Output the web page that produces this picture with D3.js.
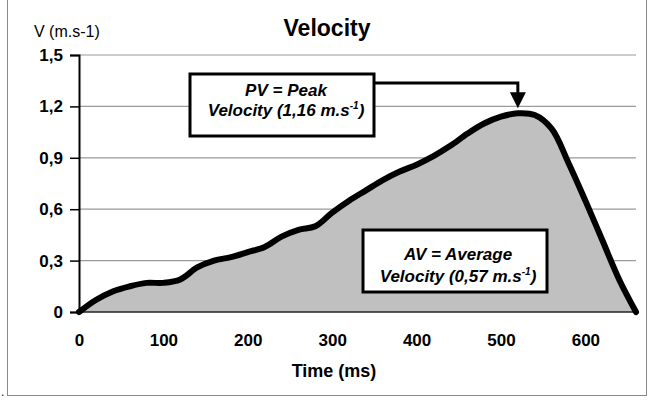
<!DOCTYPE html>
<html>
<head>
<meta charset="utf-8">
<script src="https://cdn.jsdelivr.net/npm/d3@7"></script>
<style>
  body { margin: 0; background: #fff; }
  svg { display: block; font-family: "Liberation Sans", Arial, sans-serif; }
</style>
</head>
<body>
<div id="chart"></div>
<script>
// velocity curve (time in ms, velocity in m.s-1)
var times = [0, 20, 40, 60, 80, 100, 120, 140, 160, 180, 200, 220, 240, 260, 280, 300, 320,
             340, 360, 380, 400, 420, 440, 460, 480, 500, 520, 540, 560, 580, 600, 620, 640, 660];
var velocity = [0, 0.07, 0.12, 0.15, 0.17, 0.17, 0.19, 0.26, 0.30, 0.32, 0.35, 0.38, 0.44, 0.48, 0.50, 0.58, 0.65,
                0.71, 0.77, 0.82, 0.86, 0.91, 0.97, 1.04, 1.10, 1.14, 1.16, 1.15, 1.07, 0.87, 0.65, 0.42, 0.19, 0];
var yTicks = [0, 0.3, 0.6, 0.9, 1.2, 1.5];
var xTicks = [0, 100, 200, 300, 400, 500, 600];
var peakLabel = ["PV = Peak", "Velocity (1,16 m.s", "-1", ")"];
var avgLabel = ["AV = Average", "Velocity (0,57 m.s", "-1", ")"];

var W = 651, H = 405;
var margin = {top: 55, right: 15, bottom: 93, left: 79},
    width = 636 - margin.left,
    height = 312 - margin.top;

var data = times.map(function(t, i) { return {t: t, v: velocity[i]}; });

var svg = d3.select("#chart")
  .append("svg")
    .attr("width", W)
    .attr("height", H);

// outer frame
svg.append("rect")
  .attr("x", 7.5).attr("y", -2)
  .attr("width", 639).attr("height", 397.5)
  .attr("fill", "none")
  .attr("stroke", "#8a8a8a");

svg.append("text")
  .attr("x", 1).attr("y", 396)
  .style("font-size", "12px")
  .text(".");

var g = svg.append("g")
  .attr("transform", "translate(" + margin.left + "," + margin.top + ")");

var x = d3.scaleLinear()
  .domain([0, 660])
  .range([0, width]);

var y = d3.scaleLinear()
  .domain([0, 1.5])
  .range([height, 0]);

// gridlines
g.selectAll(".grid")
  .data(yTicks.filter(function(d) { return d > 0; }))
  .enter()
  .append("line")
    .attr("x1", 0)
    .attr("x2", width)
    .attr("y1", function(d) { return y(d); })
    .attr("y2", function(d) { return y(d); })
    .attr("stroke", "#9a9a9a")
    .attr("stroke-width", 1.2);

// area + line
var area = d3.area()
  .x(function(d) { return x(d.t); })
  .y0(height)
  .y1(function(d) { return y(d.v); })
  .curve(d3.curveCatmullRom);

var line = d3.line()
  .x(function(d) { return x(d.t); })
  .y(function(d) { return y(d.v); })
  .curve(d3.curveCatmullRom);

g.append("path")
  .datum(data)
  .attr("d", area)
  .attr("fill", "#c0c0c0");

// x baseline
g.append("line")
  .attr("x1", 0).attr("x2", width)
  .attr("y1", height).attr("y2", height)
  .attr("stroke", "#222")
  .attr("stroke-width", 1.5);

// X axis
var xAxis = g.append("g")
  .attr("transform", "translate(0," + height + ")")
  .call(d3.axisBottom(x).tickValues(xTicks).tickSize(0).tickPadding(22).tickFormat(d3.format("d")));
xAxis.select(".domain").remove();
xAxis.selectAll("text")
  .style("font-size", "17px")
  .style("font-weight", "bold")
  .attr("fill", "#000");

// Y axis
var fmt = function(v) { return v === 0 ? "0" : d3.format(".1f")(v).replace(".", ","); };
var yAxis = g.append("g")
  .call(d3.axisLeft(y).tickValues(yTicks).tickSize(9).tickPadding(7).tickFormat(fmt));
yAxis.select(".domain").attr("stroke", "#000").attr("stroke-width", 2);
yAxis.selectAll(".tick line").attr("stroke", "#000").attr("stroke-width", 1.5);
yAxis.selectAll("text")
  .style("font-size", "17px")
  .style("font-weight", "bold")
  .attr("fill", "#000");

g.append("path")
  .datum(data)
  .attr("d", line)
  .attr("fill", "none")
  .attr("stroke", "#000")
  .attr("stroke-width", 6)
  .attr("stroke-linejoin", "round")
  .attr("stroke-linecap", "round");

// titles
svg.append("text")
  .attr("x", 327).attr("y", 36)
  .attr("text-anchor", "middle")
  .style("font-size", "23px")
  .style("font-weight", "bold")
  .text("Velocity");

svg.append("text")
  .attr("x", 34).attr("y", 37)
  .style("font-size", "16px")
  .text("V (m.s-1)");

svg.append("text")
  .attr("x", 334).attr("y", 377)
  .attr("text-anchor", "middle")
  .style("font-size", "18px")
  .style("font-weight", "bold")
  .text("Time (ms)");

// annotation boxes
function labelBox(bx, by, bw, bh, cx, base1, base2, lbl) {
  svg.append("rect")
    .attr("x", bx).attr("y", by)
    .attr("width", bw).attr("height", bh)
    .attr("fill", "#fff")
    .attr("stroke", "#000")
    .attr("stroke-width", 3);
  var t1 = svg.append("text")
    .attr("x", cx).attr("y", base1)
    .attr("text-anchor", "middle")
    .style("font-size", "17px")
    .style("font-weight", "bold")
    .style("font-style", "italic")
    .text(lbl[0]);
  var t2 = svg.append("text")
    .attr("x", cx).attr("y", base2)
    .attr("text-anchor", "middle")
    .style("font-size", "17px")
    .style("font-weight", "bold")
    .style("font-style", "italic");
  t2.append("tspan").text(lbl[1]);
  t2.append("tspan").attr("dy", -7).style("font-size", "10px").text(lbl[2]);
  t2.append("tspan").attr("dy", 7).text(lbl[3]);
}

// peak arrow, tip at the curve maximum
var peak = data.reduce(function(a, b) { return b.v > a.v ? b : a; });
var px = margin.left + x(peak.t), py = margin.top + y(peak.v) - 5;
svg.append("path")
  .attr("d", "M374," + 83 + "H" + px + "V" + (py - 14))
  .attr("fill", "none")
  .attr("stroke", "#000")
  .attr("stroke-width", 3);
svg.append("path")
  .attr("d", "M" + (px - 8) + "," + (py - 16) + "L" + (px + 8) + "," + (py - 16) + "L" + px + "," + py + "Z")
  .attr("fill", "#000");

labelBox(190, 74, 184, 62, 286, 96, 116, peakLabel);
labelBox(363, 230, 184, 62, 458, 260, 282, avgLabel);
</script>
</body>
</html>
